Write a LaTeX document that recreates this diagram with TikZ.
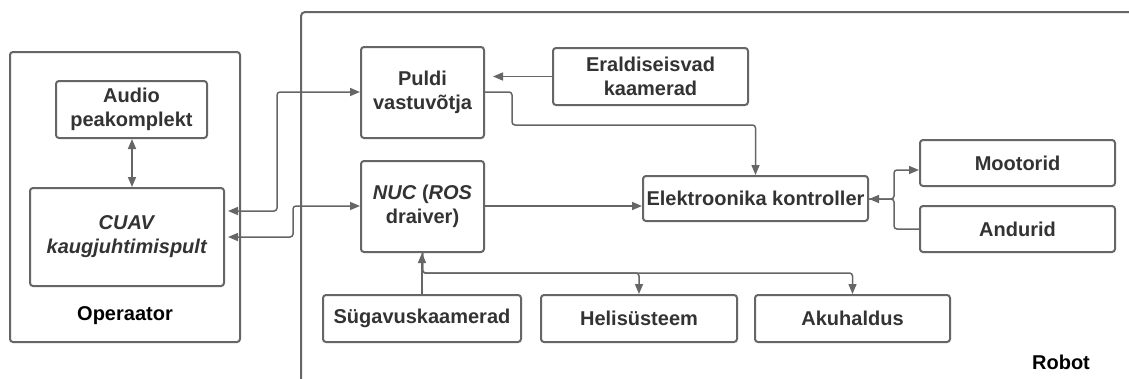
\documentclass[tikz,border=0pt]{standalone}
\usepackage{fontspec}
\setmainfont{Liberation Sans}
\usetikzlibrary{arrows.meta}
\definecolor{lineg}{HTML}{666666}
\definecolor{txtg}{HTML}{333333}
\begin{document}
\begin{tikzpicture}[x=1pt,y=-1pt,
  box/.style={draw=lineg, line width=2pt, rounded corners=3pt, align=center,
    font=\fontsize{20}{24}\selectfont\bfseries, text=txtg, inner sep=0pt},
  lbl/.style={font=\fontsize{20}{24}\selectfont\bfseries, text=black, inner sep=0pt},
  conn/.style={draw=lineg, line width=1.5pt, rounded corners=3pt},
  tipend/.style={-{Triangle[length=10pt,width=8pt]}},
  tipboth/.style={{Triangle[length=10pt,width=8pt]}-{Triangle[length=10pt,width=8pt]}},
  frame/.style={draw=lineg, line width=2pt, rounded corners=4pt}]
\useasboundingbox[fill=white] (0,0) rectangle (1129,378);
% regions
\node[box, minimum width=230pt, minimum height=290pt] (op) at (125,197) {};
\node[lbl] (oplbl) at (125,316) {Operaator};
\draw[frame] (301,380) |- (1129,12);
\node[lbl] (roblbl) at (1061,362) {Robot};
% boxes
\node[box, minimum width=151pt, minimum height=57pt] (audio) at (131.5,109.5) {Audio\\peakomplekt};
\node[box, minimum width=194pt, minimum height=98pt] (cuav) at (127,237) {\textit{CUAV}\\\textit{kaugjuhtimispult}};
\node[box, minimum width=123pt, minimum height=91pt] (puldi) at (422.5,92.5) {Puldi\\vastuvõtja};
\node[box, minimum width=195pt, minimum height=57pt] (erald) at (650.5,76.5) {Eraldiseisvad\\kaamerad};
\node[box, minimum width=123pt, minimum height=91pt] (nuc) at (422.5,206.5) {\textit{NUC} (\textit{ROS}\\draiver)};
\node[box, minimum width=225pt, minimum height=45pt] (elek) at (755.5,198.5) {Elektroonika kontroller};
\node[box, minimum width=195pt, minimum height=46pt] (moot) at (1017.5,163) {Mootorid};
\node[box, minimum width=195pt, minimum height=46pt] (andur) at (1017.5,229) {Andurid};
\node[box, minimum width=198pt, minimum height=47pt] (sug) at (422,318.5) {Sügavuskaamerad};
\node[box, minimum width=196pt, minimum height=47pt] (heli) at (639,318.5) {Helisüsteem};
\node[box, minimum width=195pt, minimum height=47pt] (aku) at (852.5,318.5) {Akuhaldus};
% connectors
\draw[conn, tipboth] (audio.south -| 132,0) -- (cuav.north -| 132,0);
\draw[conn, tipboth, shorten <=3pt] (cuav.east |- 0,211) -| (277,92) -- (puldi.west |- 0,92);
\draw[conn, tipboth, shorten <=3pt] (cuav.east |- 0,237) -| (293,206) -- (nuc.west |- 0,206);
\draw[conn, tipend, shorten >=8pt] (erald.west) -- (puldi.east |- erald.west);
\draw[conn, tipend] (puldi.east |- 0,92) -| (512,125) -| (elek.north);
\draw[conn, tipend] (nuc.east |- 0,206) -- (elek.west |- 0,206);
\draw[conn, tipend] (elek.east |- 0,199) -| (894,170) -- (moot.west |- 0,170);
\draw[conn, tipend] (andur.west) -| (894,199) -- (elek.east |- 0,199);
\draw[conn, tipend] (sug.north) -- (sug.north |- nuc.south);
\draw[conn, tipend] (nuc.south) -- (nuc.south |- 0,273) -| (heli.north);
\draw[conn, tipend] (nuc.south) -- (nuc.south |- 0,273) -| (aku.north);
\end{tikzpicture}
\end{document}
